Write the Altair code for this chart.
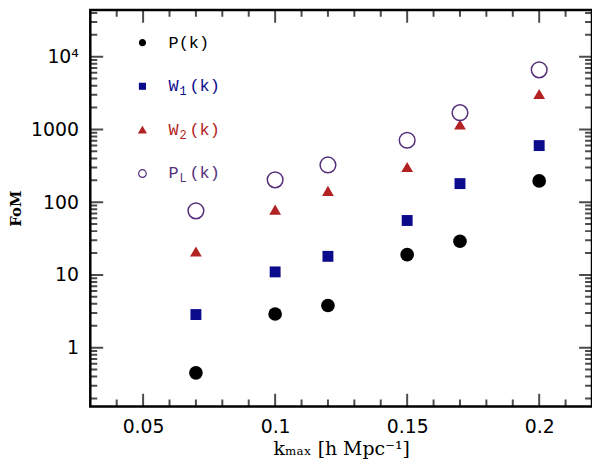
import altair as alt
import pandas as pd

# k_max values and figure of merit for each estimator
k = [0.07, 0.1, 0.12, 0.15, 0.17, 0.2]
fom_p = [0.45, 2.9, 3.8, 19, 29, 196]
fom_w1 = [2.85, 11, 18, 56, 180, 600]
fom_w2 = [21, 79, 143, 305, 1170, 3070]
fom_pl = [76, 203, 325, 710, 1700, 6600]

# legend entries (main text, subscript, rest)
leg_main = ['P(k)', 'W', 'W', 'P']
leg_sub = ['', '1', '2', 'L']
leg_rest = ['', '(k)', '(k)', '(k)']

colors = ['black', '#0b0b8b', '#b22222', '#55307a']
shapes = ['circle', 'square', 'triangle-up', 'circle']

x_major = [0.05, 0.1, 0.15, 0.2]
x_minor = [0.04, 0.06, 0.07, 0.08, 0.09, 0.11, 0.12, 0.13, 0.14,
           0.16, 0.17, 0.18, 0.19, 0.21]
y_major = [1, 10, 100, 1000, 10000]
y_minor = [0.2, 0.3, 0.4, 0.5, 0.6, 0.7, 0.8, 0.9,
           2, 3, 4, 5, 6, 7, 8, 9,
           20, 30, 40, 50, 60, 70, 80, 90,
           200, 300, 400, 500, 600, 700, 800, 900,
           2000, 3000, 4000, 5000, 6000, 7000, 8000, 9000,
           20000, 30000, 40000]

W, H = 506, 400
MAJOR, MINOR = 13, 7
x_scale = alt.Scale(domain=[0.03, 0.22], nice=False, zero=False)
y_scale = alt.Scale(type='log', domain=[0.155, 44000], nice=False)

x_tick_df = pd.DataFrame({'v': x_major + x_minor,
                          'len': [2 * MAJOR] * len(x_major) + [2 * MINOR] * len(x_minor)})
y_tick_df = pd.DataFrame({'v': y_major + y_minor,
                          'len': [2 * MAJOR] * len(y_major) + [2 * MINOR] * len(y_minor)})

lab = dict(labelFont='DejaVu Sans', labelFontSize=19, labelColor='black',
           titleFont='DejaVu Serif', titleColor='black',
           ticks=False, tickSize=0, domain=False, grid=False)

x_lab = alt.Axis(orient='bottom', values=x_major, format='~g', labelPadding=11,
                 title='kₘₐₓ [h Mpc⁻¹]', titleFontSize=19, titleFontWeight='normal',
                 titlePadding=3, **lab)
y_lab = alt.Axis(orient='left', values=y_major, labelPadding=12,
                 labelExpr="datum.value == 10000 ? '10⁴' : format(datum.value, 'd')",
                 title='FoM', titleFontSize=15, titleFontWeight='bold', titlePadding=7, **lab)


def series(values, i, size, filled, y_axis=None):
    df = pd.DataFrame({'k': k, 'fom': values})
    mark = alt.Chart(df).mark_point(shape=shapes[i], filled=filled, color=colors[i],
                                    size=size, strokeWidth=1.5, opacity=1)
    return mark.encode(x=alt.X('k:Q', scale=x_scale, axis=None),
                       y=alt.Y('fom:Q', scale=y_scale, axis=y_axis))


s_p = series(fom_p, 0, 190, True, y_lab)
s_w1 = series(fom_w1, 1, 121, True)
s_w2 = series(fom_w2, 2, 140, True)
s_pl = series(fom_pl, 3, 250, False)

# inward ticks on all four sides, clipped to the frame
tick_len = alt.Size('len:Q', scale=None)
x_ticks_bottom = alt.Chart(x_tick_df).mark_tick(orient='vertical', clip=True, color='black', thickness=2).encode(
    x=alt.X('v:Q', scale=x_scale, axis=x_lab), y=alt.value(H), size=tick_len)
x_ticks_top = alt.Chart(x_tick_df).mark_tick(orient='vertical', clip=True, color='black', thickness=2).encode(
    x=alt.X('v:Q', scale=x_scale, axis=None), y=alt.value(0), size=tick_len)
y_ticks_left = alt.Chart(y_tick_df).mark_tick(orient='horizontal', clip=True, color='black', thickness=2).encode(
    y=alt.Y('v:Q', scale=y_scale, axis=None), x=alt.value(0), size=tick_len)
y_ticks_right = alt.Chart(y_tick_df).mark_tick(orient='horizontal', clip=True, color='black', thickness=2).encode(
    y=alt.Y('v:Q', scale=y_scale, axis=None), x=alt.value(W), size=tick_len)

leg = pd.DataFrame({
    'row': [0, 1, 2, 3],
    'main': leg_main, 'sub': leg_sub, 'rest': leg_rest,
    'color': colors, 'shape': shapes,
    'fill': colors[:3] + ['transparent'],
    'size': [36, 36, 50, 60],
})
row_y = alt.Y('row:Q', scale=alt.Scale(domain=[0, 3], range=[33, 165]), axis=None)
leg_base = alt.Chart(leg)

leg_sym = leg_base.mark_point(strokeWidth=1.2, opacity=1).encode(
    x=alt.value(52.6), y=row_y,
    shape=alt.Shape('shape:N', scale=None),
    fill=alt.Fill('fill:N', scale=None),
    stroke=alt.Stroke('color:N', scale=None),
    size=alt.Size('size:Q', scale=None))
leg_main_t = leg_base.mark_text(align='left', baseline='middle', font='Liberation Mono', fontSize=17).encode(
    x=alt.value(79), y=row_y, text='main:N', color=alt.Color('color:N', scale=None))
leg_sub_t = leg_base.mark_text(align='left', baseline='middle', font='Liberation Mono', fontSize=12, dy=5).encode(
    x=alt.value(90), y=row_y, text='sub:N', color=alt.Color('color:N', scale=None))
leg_rest_t = leg_base.mark_text(align='left', baseline='middle', font='Liberation Mono', fontSize=17).encode(
    x=alt.value(100), y=row_y, text='rest:N', color=alt.Color('color:N', scale=None))

chart = alt.layer(
    x_ticks_bottom, x_ticks_top, y_ticks_left, y_ticks_right,
    s_p, s_w1, s_w2, s_pl, leg_sym, leg_main_t, leg_sub_t, leg_rest_t
).resolve_scale(y='independent').resolve_axis(x='independent', y='independent').properties(
    width=W, height=H,
    autosize=alt.AutoSizeParams(type='none'),
    padding={'left': 83, 'top': 0, 'right': 0, 'bottom': 53},
    background='white',
).configure_view(stroke='black', strokeWidth=2.5)

chart.save('out.html', embed_options={'renderer': 'svg', 'actions': False})
